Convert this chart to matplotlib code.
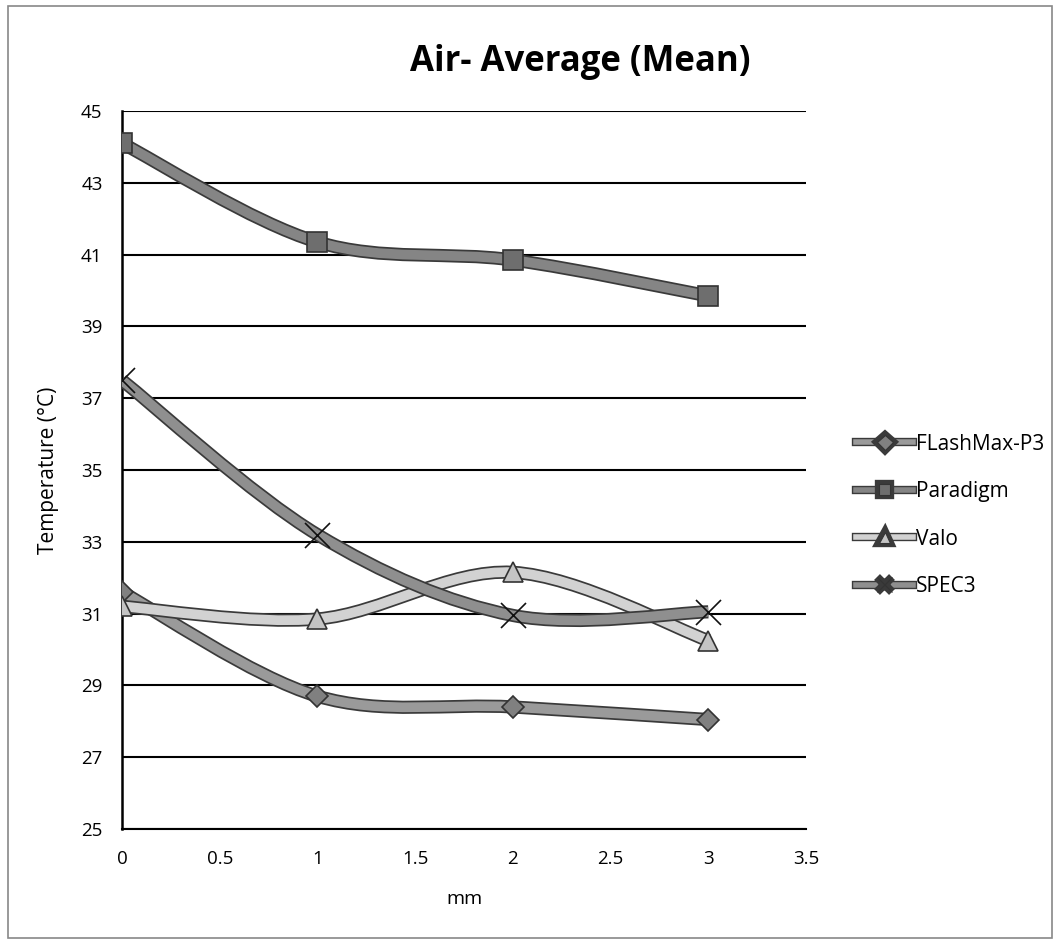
import matplotlib
matplotlib.use("Agg")
import matplotlib.pyplot as plt
import matplotlib.patheffects as pe
from matplotlib.path import Path
from matplotlib.patches import PathPatch, Rectangle
from matplotlib.lines import Line2D

plt.rcParams['font.family'] = ['Open Sans', 'DejaVu Sans']

# data
mm = [0, 1, 2, 3]
flashmax = [31.6, 28.7, 28.4, 28.05]
paradigm = [44.1, 41.35, 40.85, 39.85]
valo = [31.2, 30.85, 32.15, 30.25]
spec3 = [37.5, 33.2, 30.95, 31.05]
series_names = ["FLashMax-P3", "Paradigm", "Valo", "SPEC3"]
y_ticks = list(range(25, 46, 2))
x_ticks = [0, 0.5, 1, 1.5, 2, 2.5, 3, 3.5]


def smooth_path(xs, ys):
    # Excel-like smoothed line: Catmull-Rom turned into cubic Beziers
    pts = list(zip(xs, ys))
    n = len(pts)
    verts = [pts[0]]
    codes = [Path.MOVETO]
    for i in range(n - 1):
        p0 = pts[i - 1] if i > 0 else pts[i]
        p1 = pts[i]
        p2 = pts[i + 1]
        p3 = pts[i + 2] if i + 2 < n else pts[i + 1]
        c1 = (p1[0] + (p2[0] - p0[0]) / 6, p1[1] + (p2[1] - p0[1]) / 6)
        c2 = (p2[0] - (p3[0] - p1[0]) / 6, p2[1] - (p3[1] - p1[1]) / 6)
        verts += [c1, c2, p2]
        codes += [Path.CURVE4] * 3
    return Path(verts, codes)


fig = plt.figure(figsize=(10.6, 9.44), dpi=100)
ax = fig.add_axes([0.1151, 0.1218, 0.6453, 0.7606])

styles = [
    # line colour, marker, marker size, marker colour
    ("#9a9a9a", "D", 11, "#808080"),
    ("#858585", "s", 15, "#6e6e6e"),
    ("#d2d2d2", "^", 15, "#c4c4c4"),
    ("#8f8f8f", "x", 18, "#111111"),
]
all_series = [flashmax, paradigm, valo, spec3]

handles = []
for name, ys, (col, mk, ms, mcol) in zip(series_names, all_series, styles):
    effects = [pe.Stroke(linewidth=9.5, foreground="#3a3a3a"), pe.Normal()]
    patch = PathPatch(smooth_path(mm, ys), facecolor="none", edgecolor=col,
                      lw=7, path_effects=effects, zorder=3)
    ax.add_patch(patch)
    if mk == "x":
        ax.plot(mm, ys, linestyle="none", marker=mk, markersize=ms,
                markeredgewidth=1.2, color=mcol, zorder=4)
    else:
        ax.plot(mm, ys, linestyle="none", marker=mk, markersize=ms,
                markerfacecolor=mcol, markeredgecolor="#333333",
                markeredgewidth=1.2, zorder=4)
    leg_effects = [pe.Stroke(linewidth=6, foreground="#3a3a3a"), pe.Normal()]
    handles.append(Line2D([0], [0], color=col, lw=4, marker=mk,
                          markersize=8 if mk != "x" else 11,
                          markerfacecolor=mcol,
                          markeredgecolor="#333333", markeredgewidth=0.8,
                          path_effects=leg_effects, label=name))

ax.set_xlim(0, 3.5)
ax.set_ylim(25, 45)
ax.set_xticks(x_ticks)
ax.set_xticklabels([f"{t:g}" for t in x_ticks])
ax.set_yticks(y_ticks)
ax.grid(axis="y", color="black", linewidth=1.5)
ax.set_axisbelow(True)
for side in ["top", "right"]:
    ax.spines[side].set_visible(False)
ax.spines["left"].set_linewidth(1.8)
ax.spines["bottom"].set_linewidth(1.5)
ax.tick_params(axis="x", length=0, labelsize=13.5, pad=15)
ax.tick_params(axis="y", length=0, labelsize=13.5, pad=14)

ax.set_xlabel("mm", fontsize=14, labelpad=16)
ax.set_ylabel("Temperature (°C)", fontsize=15, labelpad=16)
fig.text(0.547, 0.934, "Air- Average (Mean)", ha="center", va="center",
         fontsize=25, fontweight="bold")

fig.legend(handles=handles, loc="center left", bbox_to_anchor=(0.79, 0.454),
           frameon=False, fontsize=15, handlelength=2.75, handletextpad=0.1,
           labelspacing=1.27)

fig.patches.append(Rectangle((0.008, 0.006), 0.984, 0.988, transform=fig.transFigure,
                             fill=False, edgecolor="#888888", linewidth=1.2))

fig.savefig("out.png", dpi=100)
